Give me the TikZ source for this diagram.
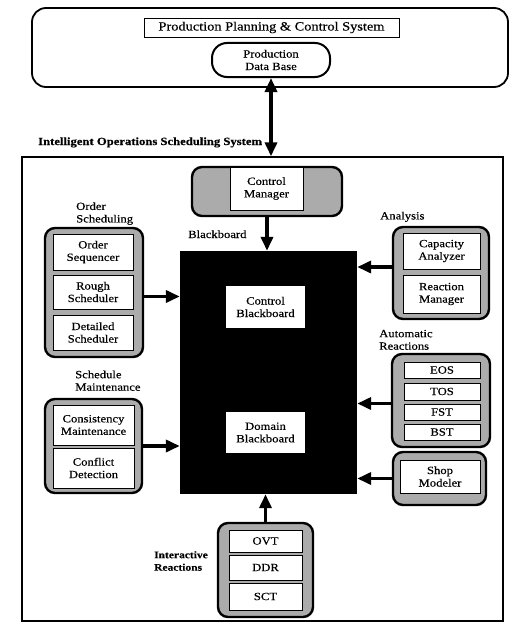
\documentclass[tikz,border=0pt]{standalone}
\usepackage{fontspec}
\setmainfont{Liberation Serif}[FakeStretch=1.15, FakeBold=0.4]
\usetikzlibrary{arrows.meta}
\newcommand{\cellfont}{\fontsize{11}{12.5}\selectfont}
\begin{document}
\begin{tikzpicture}[x=1pt,y=-1pt,
  grp/.style={draw, line width=2.4pt, rounded corners=10pt, fill=black!33, inner sep=0pt},
  cell/.style={draw, line width=0.9pt, fill=white, align=center, inner sep=0pt, font=\cellfont},
  lbl/.style={align=left, inner sep=0pt, font=\cellfont},
  arr/.style={line width=3.5pt, -{Triangle[length=14pt,width=12pt]}},
  darr/.style={line width=3.5pt, {Triangle[length=14pt,width=12pt]}-{Triangle[length=14pt,width=12pt]}}]
\useasboundingbox (0,0) rectangle (511,626);

% Production planning & control system
\node[draw, line width=1.8pt, rounded corners=14pt, minimum width=476pt, minimum height=79pt] (ppc) at (270,47.5) {};
\node[draw, line width=0.9pt, minimum width=255pt, minimum height=19pt, inner sep=0pt,
      font=\fontsize{12.5}{14}\selectfont] (ppct) at (271.5,27.5) {Production Planning \& Control System};
\node[draw, line width=2pt, rounded corners=15pt, minimum width=118pt, minimum height=34pt,
      align=center, inner sep=0pt, font=\cellfont] (pdb) at (271,60) {Production\\Data Base};

% Intelligent operations scheduling system
\node[draw, line width=1.4pt, minimum width=481pt, minimum height=464pt] (iss) at (262.5,389) {};
\node[anchor=base west, inner sep=0pt, font=\fontsize{11}{13}\selectfont\bfseries] (isst) at (38,145)
  {Intelligent Operations Scheduling System};
\draw[darr] (pdb.south) -- (pdb.south |- iss.north);

% Control manager
\node[grp, minimum width=150pt, minimum height=49pt] (cmg) at (267,191.5) {};
\node[cell, minimum width=73pt, minimum height=43pt] (cm) at (266.5,188.5) {Control\\Manager};

% Blackboard
\node[fill=black, minimum width=177pt, minimum height=243pt, inner sep=0pt] (bb) at (268.5,372.5) {};
\node[anchor=base west, inner sep=0pt, font=\cellfont] (bbt) at (188,238) {Blackboard};
\node[cell, draw=none, minimum width=79pt, minimum height=42pt] (cbb) at (265.5,307) {Control\\Blackboard};
\node[cell, draw=none, minimum width=79pt, minimum height=41pt] (dbb) at (265.5,432.5) {Domain\\Blackboard};
\draw[arr] (cmg.south) -- (cmg.south |- bb.north);

% Order scheduling
\node[lbl, anchor=south west] (ogt) at (76,225) {Order\\Scheduling};
\node[grp, minimum width=98pt, minimum height=129pt] (og) at (94,292.5) {};
\node[cell, minimum width=80pt, minimum height=36pt] (os) at (93,252) {Order\\Sequencer};
\node[cell, minimum width=80pt, minimum height=34pt] (rs) at (93,292) {Rough\\Scheduler};
\node[cell, minimum width=80pt, minimum height=35pt] (ds) at (93,332.5) {Detailed\\Scheduler};
\draw[arr] ([yshift=-4pt]og.east) -- ([yshift=-4pt]og.east -| bb.west);

% Schedule maintenance
\node[lbl, anchor=south west] (smt) at (75,391) {Schedule\\Maintenance};
\node[grp, minimum width=97pt, minimum height=94pt] (smg) at (93.5,446) {};
\node[cell, minimum width=81pt, minimum height=40pt] (cmn) at (93.5,425) {Consistency\\Maintenance};
\node[cell, minimum width=81pt, minimum height=40pt] (cd) at (93.5,468) {Conflict\\Detection};
\draw[arr] (smg.east) -- (smg.east -| bb.west);

% Analysis
\node[lbl, anchor=south west] (ant) at (380,222) {Analysis};
\node[grp, minimum width=96pt, minimum height=92pt] (ang) at (441,273) {};
\node[cell, minimum width=77pt, minimum height=36pt] (ca) at (441.5,251) {Capacity\\Analyzer};
\node[cell, minimum width=77pt, minimum height=38pt] (rm) at (441.5,294) {Reaction\\Manager};
\draw[arr] ([yshift=6pt]ang.west) -- ([yshift=6pt]ang.west -| bb.east);

% Automatic reactions
\node[lbl, anchor=south west] (art) at (379,350) {Automatic\\Reactions};
\node[grp, minimum width=98pt, minimum height=93pt] (arg) at (441,400.5) {};
\node[cell, minimum width=76pt, minimum height=16pt] (eos) at (442,370) {EOS};
\node[cell, minimum width=76pt, minimum height=17pt] (tos) at (442,391.5) {TOS};
\node[cell, minimum width=76pt, minimum height=16pt] (fst) at (442,412) {FST};
\node[cell, minimum width=76pt, minimum height=16pt] (bst) at (442,432) {BST};
\draw[arr] ([yshift=-3pt]arg.west) -- ([yshift=-3pt]arg.west -| bb.east);

% Shop modeler
\node[grp, minimum width=93pt, minimum height=53pt] (shg) at (439.5,478.5) {};
\node[cell, minimum width=80pt, minimum height=33pt] (sm) at (440,476.5) {Shop\\Modeler};
\draw[arr] (shg.west) -- (shg.west -| bb.east);

% Interactive reactions
\node[align=left, inner sep=0pt, font=\fontsize{10}{12.5}\selectfont\bfseries] (irt) at (181,561) {Interactive\\Reactions};
\node[grp, minimum width=95pt, minimum height=94pt] (irg) at (265.5,570) {};
\node[cell, minimum width=73pt, minimum height=22pt] (ovt) at (265.5,541) {OVT};
\node[cell, minimum width=73pt, minimum height=25pt] (ddr) at (265.5,567.5) {DDR};
\node[cell, minimum width=73pt, minimum height=27pt] (sct) at (265.5,596.5) {SCT};
\draw[arr] (irg.north) -- (irg.north |- bb.south);
\end{tikzpicture}
\end{document}
